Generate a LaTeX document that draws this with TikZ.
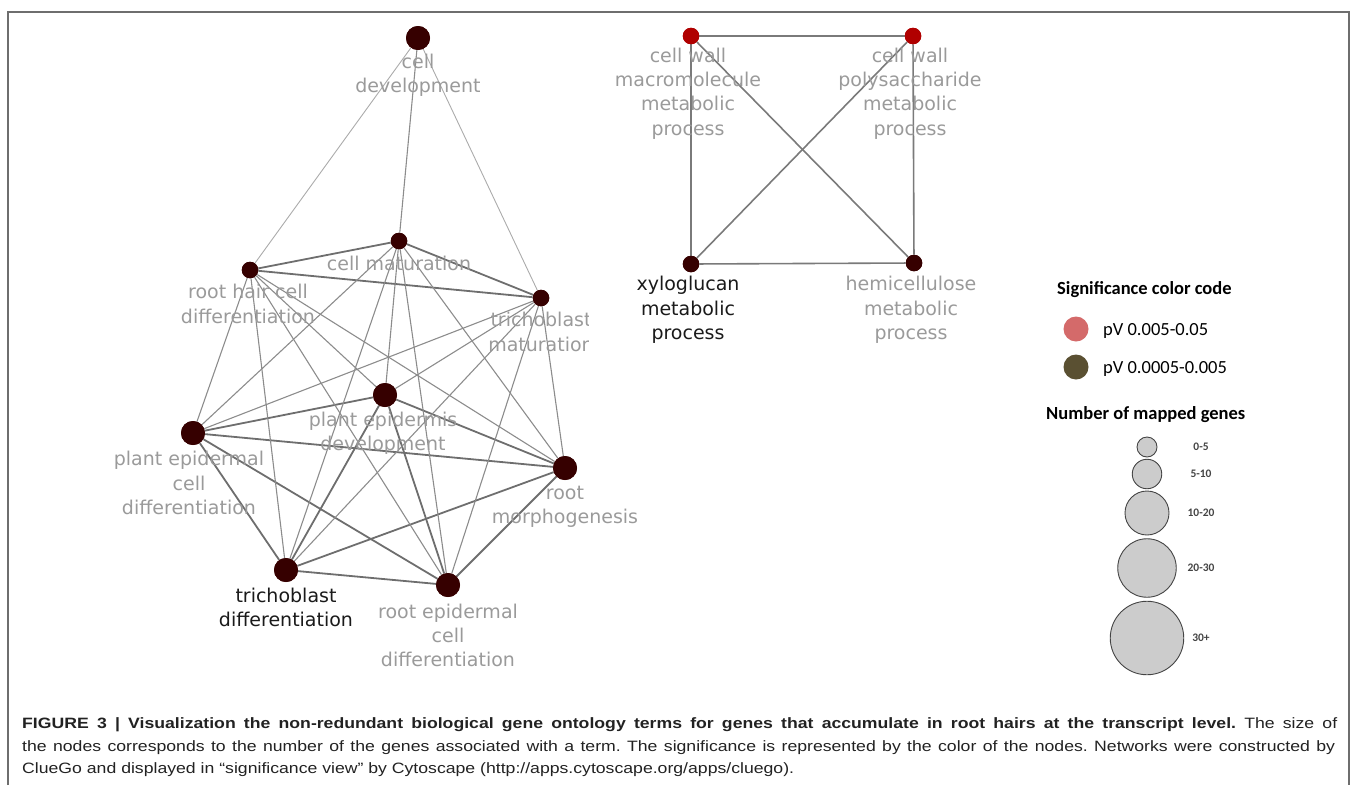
\documentclass[tikz,border=0pt]{standalone}
\usepackage{fontspec}
\usepackage{graphicx}
\newfontfamily\lblfont{DejaVu Sans}
\newfontfamily\legfont{Carlito}
\newfontfamily\capfamily{Liberation Sans}
\definecolor{nodedark}{HTML}{360000}
\definecolor{nodered}{HTML}{B00000}
\definecolor{lblgray}{HTML}{9A9A9A}
\definecolor{lblblack}{HTML}{1A1A1A}
\definecolor{edgedark}{HTML}{6E6E6E}
\definecolor{edgemid}{HTML}{8C8C8C}
\definecolor{edgelight}{HTML}{ABABAB}
\definecolor{edgeright}{HTML}{7A7A7A}
\definecolor{framegray}{HTML}{6E6E6E}
\definecolor{sigred}{HTML}{D46A6A}
\definecolor{sigolive}{HTML}{5A5032}
\definecolor{legfill}{HTML}{CCCCCC}
\definecolor{legline}{HTML}{444444}
\definecolor{captext}{HTML}{222222}
\frenchspacing
\newsavebox\capboxC
\newlength\capLenC
\newcommand\capTextA{\textbf{FIGURE 3 | Visualization the non-redundant biological gene ontology terms for genes that accumulate in root hairs at the transcript level.} The size of}
\newcommand\capTextB{the nodes corresponds to the number of the genes associated with a term. The significance is represented by the color of the nodes. Networks were constructed by}
\newcommand\capTextC{ClueGo and displayed in “significance view” by Cytoscape (http://apps.cytoscape.org/apps/cluego).}
\begin{document}
\sbox\capboxC{\capfamily\fontsize{15}{18}\selectfont\capTextC}%
\setlength\capLenC{\wd\capboxC}%
\pgfmathsetmacro\capf{772/\capLenC}%
\pgfmathsetmacro\capWa{1315/\capf}%
\pgfmathsetmacro\capWb{1313/\capf}%
\begin{tikzpicture}[x=1pt,y=-1pt,
  bignode/.style={circle, fill=nodedark, minimum size=24pt, inner sep=0pt},
  smallnode/.style={circle, fill=nodedark, minimum size=16.5pt, inner sep=0pt},
  rednode/.style={smallnode, fill=nodered},
  lbl/.style={font=\lblfont\fontsize{19}{24.3}\selectfont, text=lblgray, align=center, inner sep=0pt},
  lblb/.style={lbl, text=lblblack},
  thickedge/.style={draw=edgedark, line width=1.8pt},
  thinedge/.style={draw=edgemid, line width=1.1pt},
  faintedge/.style={draw=edgelight, line width=0.9pt},
  rightedge/.style={draw=edgeright, line width=1.6pt},
  legtitle/.style={font=\legfont\bfseries\fontsize{18.5}{22}\selectfont, anchor=base west, inner sep=0pt},
  legtext/.style={font=\legfont\fontsize{18.5}{22}\selectfont, anchor=base west, inner sep=0pt},
  sizetext/.style={font=\legfont\bfseries\fontsize{11.5}{13}\selectfont, inner sep=0pt, text=legline},
  sizecircle/.style={circle, fill=legfill, draw=legline, line width=0.9pt, inner sep=0pt},
  sigcircle/.style={circle, minimum size=25pt, inner sep=0pt},
  capline/.style={font=\capfamily\fontsize{15}{18}\selectfont, text=captext, anchor=base west, inner sep=0pt}
]
\useasboundingbox (0,0) rectangle (1358,785);
% frame
\draw[framegray, line width=1.5pt] (8,785) -- (8,12) -- (1349,12) -- (1349,785);

% left network nodes
\node[bignode] (cd) at (418,38) {};
\node[smallnode] (cm) at (399,241) {};
\node[smallnode] (rh) at (250,270) {};
\node[smallnode] (tm) at (541,298) {};
\node[bignode] (pe) at (385,395) {};
\node[bignode] (pc) at (193,433) {};
\node[bignode] (rm) at (565,468) {};
\node[bignode] (td) at (286,570) {};
\node[bignode] (re) at (448,585) {};

% right network nodes
\node[rednode] (cw1) at (691,36) {};
\node[rednode] (cw2) at (913,36) {};
\node[smallnode] (xy) at (691,264) {};
\node[smallnode] (hc) at (914,263) {};

% edges left network
\draw[faintedge] (cd) -- (rh);
\draw[thinedge] (cd) -- (cm);
\draw[faintedge] (cd) -- (tm);
\foreach \a/\b in {rh/cm, rh/tm, cm/tm, pc/pe, pc/rm, pe/rm, pc/td, pc/re, td/re, td/rm, rm/re, pe/td, pe/re}
  \draw[thickedge] (\a) -- (\b);
\foreach \a/\b in {rh/pc, rh/pe, rh/rm, rh/td, rh/re, cm/pe, cm/pc, cm/rm, cm/td, cm/re, tm/pe, tm/pc, tm/rm, tm/td, tm/re}
  \draw[thinedge] (\a) -- (\b);

% edges right network
\foreach \a/\b in {cw1/cw2, cw1/xy, cw2/hc, xy/hc, cw1/hc, cw2/xy}
  \draw[rightedge] (\a) -- (\b);

% redraw nodes on top
\foreach \n in {cd,pe,pc,rm,td,re}
  \fill[nodedark] (\n.center) circle (12pt);
\foreach \n in {cm,rh,tm,xy,hc}
  \fill[nodedark] (\n.center) circle (8.25pt);
\foreach \n in {cw1,cw2}
  \fill[nodered] (\n.center) circle (8.25pt);

% labels left network
\node[lbl] (cdL) at (418,75.5) {cell\\development};
\node[lbl] (cmL) at (399,263) {cell maturation};
\node[lbl] (rhL) at (248,304) {root hair cell\\differentiation};
\begin{scope}
\clip (0,0) rectangle (588,785);
\node[lbl] (tmL) at (541,332) {trichoblast\\maturation};
\end{scope}
\node[lbl] (peL) at (383,433) {plant epidermis\\development};
\node[lbl] (pcL) at (189,483) {plant epidermal\\cell\\differentiation};
\node[lbl] (rmL) at (565,507) {root\\morphogenesis};
\node[lblb] (tdL) at (286,607.5) {trichoblast\\differentiation};
\node[lbl] (reL) at (448,635.5) {root epidermal\\cell\\differentiation};

% labels right network
\node[lbl] (cw1L) at (688,93.5) {cell wall\\macromolecule\\metabolic\\process};
\node[lbl] (cw2L) at (910,93.5) {cell wall\\polysaccharide\\metabolic\\process};
\node[lblb] (xyL) at (688,310) {xyloglucan\\metabolic\\process};
\node[lbl] (hcL) at (911,310) {hemicellulose\\metabolic\\process};

% legend
\node[legtitle] (sigT) at (1057,294) {Significance color code};
\node[sigcircle, fill=sigred] (sigR) at (1076,329) {};
\node[legtext] (sigRT) at (1103,335) {pV 0.005-0.05};
\node[sigcircle, fill=sigolive] (sigO) at (1076,367) {};
\node[legtext] (sigOT) at (1103,373) {pV 0.0005-0.005};
\node[legtitle] (numT) at (1046,419) {Number of mapped genes};
\node[sizecircle, minimum size=20pt] (s1) at (1147,447) {};
\node[sizecircle, minimum size=29.5pt] (s2) at (1147,474) {};
\node[sizecircle, minimum size=44pt] (s3) at (1147,513) {};
\node[sizecircle, minimum size=58.5pt] (s4) at (1147,568) {};
\node[sizecircle, minimum size=73.5pt] (s5) at (1147,638) {};
\node[sizetext] (s1T) at (1201,447) {0-5};
\node[sizetext] (s2T) at (1201,474) {5-10};
\node[sizetext] (s3T) at (1201,513) {10-20};
\node[sizetext] (s4T) at (1201,568) {20-30};
\node[sizetext] (s5T) at (1201,638) {30+};

% caption
\node[capline] (cap1) at (22,728) {\scalebox{\capf}[1]{\makebox[\capWa pt][s]{\capTextA}}};
\node[capline] (cap2) at (22,751) {\scalebox{\capf}[1]{\makebox[\capWb pt][s]{\capTextB}}};
\node[capline] (cap3) at (22,773) {\scalebox{\capf}[1]{\capTextC}};
\end{tikzpicture}
\end{document}
